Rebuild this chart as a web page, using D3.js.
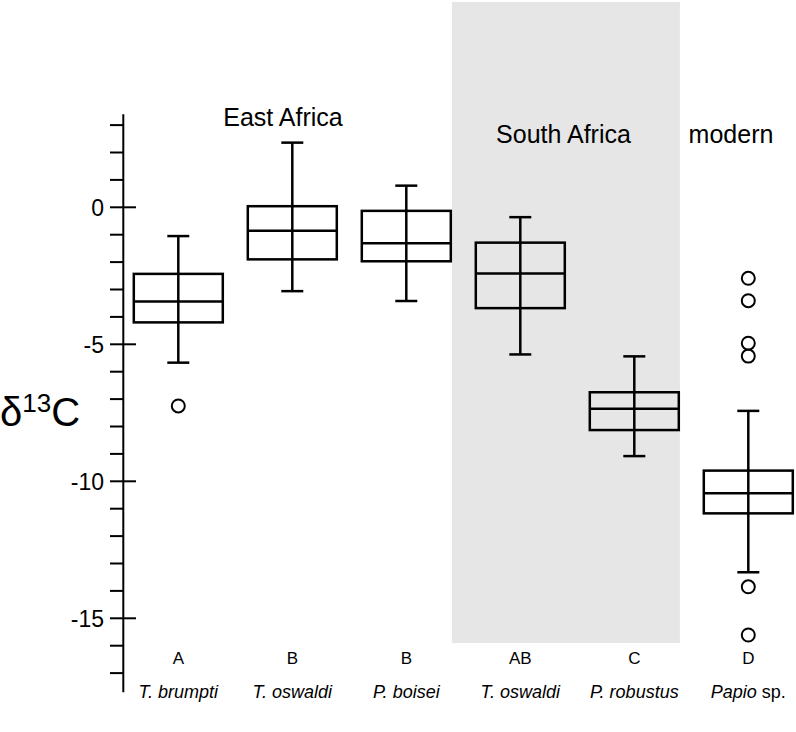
<!DOCTYPE html>
<html>
<head>
<meta charset="utf-8">
<script src="https://cdn.jsdelivr.net/npm/d3@7"></script>
<style>
  body { margin: 0; background: #fff; }
  svg text { font-family: "Liberation Sans", Arial, sans-serif; fill: #000; }
  .box, .whisker, .cap, .med { stroke: #000; stroke-width: 2.5; fill: none; }
  .outlier { stroke: #000; stroke-width: 2; fill: none; }
</style>
</head>
<body>
<script>
// data (delta 13C)
const species = ["T. brumpti", "T. oswaldi", "P. boisei", "T. oswaldi", "P. robustus", "Papio"];
const letters = ["A", "B", "B", "AB", "C", "D"];
const whiskerHigh = [-1.05, 2.36, 0.79, -0.36, -5.44, -7.43];
const q3 = [-2.43, 0.04, -0.13, -1.29, -6.75, -9.61];
const median = [-3.44, -0.86, -1.31, -2.42, -7.35, -10.44];
const q1 = [-4.2, -1.9, -1.97, -3.68, -8.13, -11.17];
const whiskerLow = [-5.67, -3.06, -3.42, -5.37, -9.08, -13.32];
const outliers = [[-7.25], [], [], [], [], [-2.59, -3.41, -4.96, -5.43, -13.85, -15.61]];
const yTicks = [3, 2, 1, 0, -1, -2, -3, -4, -5, -6, -7, -8, -9, -10, -11, -12, -13, -14, -15, -16, -17];
const yLabels = [0, -5, -10, -15];

const width = 796, height = 732;
const boxW = 89, capW = 22;

const svg = d3.select("body").append("svg")
    .attr("width", width)
    .attr("height", height);

const idx = d3.range(species.length);
var x = d3.scalePoint().domain(idx).range([178.3, 748.3]);
var y = d3.scaleLinear().domain([0, -15]).range([207.3, 618.3]);
const step = x.step();

// shaded South Africa region
svg.append("rect")
    .attr("x", x(3) - 0.6 * step)
    .attr("y", 2)
    .attr("width", (x(4) + 0.4 * step) - (x(3) - 0.6 * step))
    .attr("height", y(-15.9) - 2)
    .attr("fill", "#e6e6e6");

// y axis: line + minor ticks + crossing major ticks
const axisX = 123.3;
svg.append("line")
    .attr("x1", axisX).attr("x2", axisX)
    .attr("y1", y(3.4)).attr("y2", y(-17.7))
    .attr("stroke", "#000").attr("stroke-width", 2);

svg.selectAll(".tick")
    .data(yTicks)
    .enter()
    .append("line")
    .attr("x1", 110)
    .attr("x2", d => yLabels.includes(d) ? 136 : axisX)
    .attr("y1", d => y(d)).attr("y2", d => y(d))
    .attr("stroke", "#000").attr("stroke-width", 2);

svg.selectAll(".ylab")
    .data(yLabels)
    .enter()
    .append("text")
    .attr("x", 104)
    .attr("y", d => y(d))
    .attr("dy", "0.36em")
    .attr("text-anchor", "end")
    .style("font-size", "23px")
    .text(d => d === 0 ? "0" : "-" + Math.abs(d));

// axis title
const ttl = svg.append("text")
    .attr("x", 0)
    .attr("y", 426)
    .style("font-size", "40px");
ttl.append("tspan").text("\u03b4");
ttl.append("tspan").attr("dy", -14).style("font-size", "26px").text("13");
ttl.append("tspan").attr("dy", 14).text("C");

// whiskers
svg.selectAll(".whisker")
    .data(idx)
    .enter()
    .append("line")
    .attr("class", "whisker")
    .attr("x1", i => x(i)).attr("x2", i => x(i))
    .attr("y1", i => y(whiskerHigh[i]))
    .attr("y2", i => y(whiskerLow[i]));

// caps
[whiskerHigh, whiskerLow].forEach(function(arr) {
    svg.selectAll(null)
        .data(idx)
        .enter()
        .append("line")
        .attr("class", "cap")
        .attr("x1", i => x(i) - capW / 2).attr("x2", i => x(i) + capW / 2)
        .attr("y1", i => y(arr[i])).attr("y2", i => y(arr[i]));
});

// boxes
svg.selectAll(".box")
    .data(idx)
    .enter()
    .append("rect")
    .attr("class", "box")
    .attr("x", i => x(i) - boxW / 2)
    .attr("width", boxW)
    .attr("y", i => y(q3[i]))
    .attr("height", i => y(q1[i]) - y(q3[i]));

svg.selectAll(".med")
    .data(idx)
    .enter()
    .append("line")
    .attr("class", "med")
    .attr("x1", i => x(i) - boxW / 2).attr("x2", i => x(i) + boxW / 2)
    .attr("y1", i => y(median[i])).attr("y2", i => y(median[i]));

// outliers
const outPts = [];
outliers.forEach((arr, i) => arr.forEach(v => outPts.push({i: i, v: v})));
svg.selectAll(".outlier")
    .data(outPts)
    .enter()
    .append("circle")
    .attr("class", "outlier")
    .attr("cx", d => x(d.i))
    .attr("cy", d => y(d.v))
    .attr("r", 6.5);

// group letters
svg.selectAll(".letter")
    .data(idx)
    .enter()
    .append("text")
    .attr("x", i => x(i))
    .attr("y", 664)
    .attr("text-anchor", "middle")
    .style("font-size", "17px")
    .text(i => letters[i]);

// species names
svg.selectAll(".species")
    .data(idx)
    .enter()
    .append("text")
    .attr("x", i => x(i))
    .attr("y", 698)
    .attr("text-anchor", "middle")
    .style("font-size", "18px")
    .each(function(i) {
        var t = d3.select(this);
        if (species[i] === "Papio") {
            t.append("tspan").style("font-style", "italic").text("Papio");
            t.append("tspan").text(" sp.");
        } else {
            t.style("font-style", "italic").text(species[i]);
        }
    });

// region labels
svg.append("text").attr("x", 283).attr("y", 125.7).attr("text-anchor", "middle")
    .style("font-size", "25px").text("East Africa");
svg.append("text").attr("x", 563.5).attr("y", 142.7).attr("text-anchor", "middle")
    .style("font-size", "25px").text("South Africa");
svg.append("text").attr("x", 731).attr("y", 142.7).attr("text-anchor", "middle")
    .style("font-size", "25px").text("modern");
</script>
</body>
</html>
